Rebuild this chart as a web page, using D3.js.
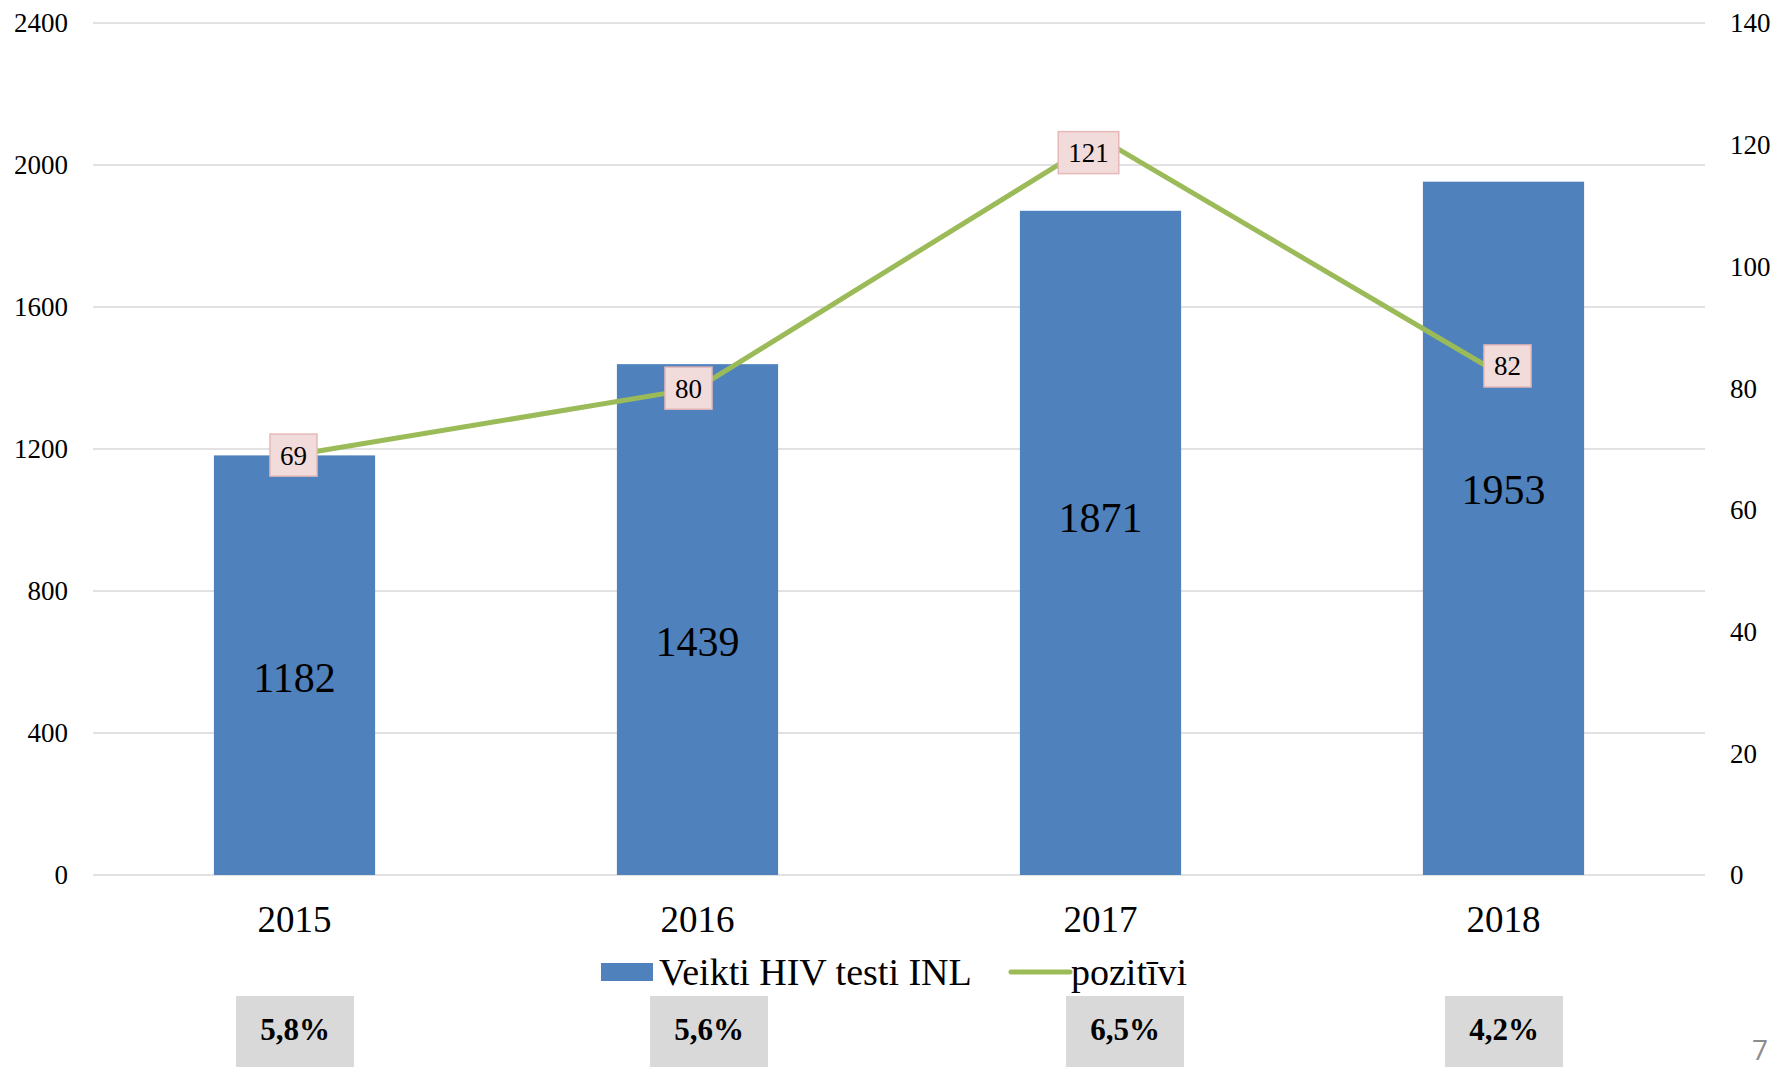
<!DOCTYPE html>
<html>
<head>
<meta charset="utf-8">
<script src="https://cdn.jsdelivr.net/npm/d3@7"></script>
<style>
  body { margin: 0; background: #fff; }
  svg text { font-family: "Liberation Serif", "Times New Roman", serif; }
</style>
</head>
<body>
<div id="chart"></div>
<script>
// Chart values
const years = ["2015", "2016", "2017", "2018"];
const tests = [1182, 1439, 1871, 1953];
const positives = [69, 80, 121, 82];
const shares = ["5,8%", "5,6%", "6,5%", "4,2%"];
const leftTicks = [0, 400, 800, 1200, 1600, 2000, 2400];
const rightTicks = [0, 20, 40, 60, 80, 100, 120, 140];

// Small hand nudges for the data labels (px), as placed in the original slide
const barLabelNudge = [12, 22, -26, -39];
const pointLabelNudge = [[-1, 0], [-9, 0], [-12, 14], [4, -10]];

const W = 1775, H = 1067;
const plotLeft = 93, plotRight = 1705, plotTop = 23, plotBottom = 875;

const svg = d3.select("#chart").append("svg")
    .attr("width", W)
    .attr("height", H);

const x = d3.scaleBand().domain(years).range([plotLeft, plotRight]).padding(0);
const yL = d3.scaleLinear().domain([0, 2400]).range([plotBottom, plotTop]);
const yR = d3.scaleLinear().domain([0, 140]).range([plotBottom, plotTop]);
const barW = x.bandwidth() * 0.4;
const cx = d => x(d) + x.bandwidth() / 2;

// Gridlines
svg.append("g")
    .selectAll("line")
    .data(leftTicks)
    .join("line")
    .attr("x1", plotLeft).attr("x2", plotRight)
    .attr("y1", d => yL(d)).attr("y2", d => yL(d))
    .attr("stroke", "#d9d9d9")
    .attr("stroke-width", 1.5);

// Left axis labels
svg.append("g")
    .selectAll("text")
    .data(leftTicks)
    .join("text")
    .attr("x", 68)
    .attr("y", d => yL(d))
    .attr("dy", "0.35em")
    .attr("text-anchor", "end")
    .attr("font-size", 27)
    .text(d => d);

// Right axis labels
svg.append("g")
    .selectAll("text")
    .data(rightTicks)
    .join("text")
    .attr("x", 1730)
    .attr("y", d => yR(d))
    .attr("dy", "0.35em")
    .attr("text-anchor", "start")
    .attr("font-size", 27)
    .text(d => d);

// Bars
svg.append("g")
    .selectAll("rect")
    .data(years)
    .join("rect")
    .attr("x", d => cx(d) - barW / 2)
    .attr("width", barW)
    .attr("y", (d, i) => yL(tests[i]))
    .attr("height", (d, i) => yL(0) - yL(tests[i]))
    .attr("fill", "#4f81bd");

// Bar value labels
svg.append("g")
    .selectAll("text")
    .data(years)
    .join("text")
    .attr("x", d => cx(d))
    .attr("y", (d, i) => (yL(tests[i]) + yL(0)) / 2 + barLabelNudge[i])
    .attr("dy", "0.35em")
    .attr("text-anchor", "middle")
    .attr("font-size", 42)
    .text((d, i) => tests[i]);

// Line of positive results
const line = d3.line()
    .x(d => cx(d))
    .y((d, i) => yR(positives[i]));
svg.append("path")
    .attr("d", line(years))
    .attr("fill", "none")
    .attr("stroke", "#9bbb59")
    .attr("stroke-width", 5)
    .attr("stroke-linejoin", "round");

// Point labels in pink boxes
const pl = svg.append("g")
    .selectAll("g")
    .data(years)
    .join("g")
    .attr("transform", (d, i) => `translate(${cx(d) + pointLabelNudge[i][0]},${yR(positives[i]) + pointLabelNudge[i][1]})`);
pl.each(function(d, i) {
    const g = d3.select(this);
    const r = g.append("rect");
    const t = g.append("text")
        .attr("text-anchor", "middle")
        .attr("dy", "0.35em")
        .attr("font-size", 27)
        .text(positives[i]);
    const tw = t.node().getComputedTextLength();
    const bw = tw + 20, bh = 42;
    r.attr("x", -bw / 2).attr("y", -bh / 2)
        .attr("width", bw).attr("height", bh)
        .attr("fill", "#f2dcdb")
        .attr("stroke", "#e6b9b8")
        .attr("stroke-width", 1.5);
});

// Category labels
svg.append("g")
    .selectAll("text")
    .data(years)
    .join("text")
    .attr("x", d => cx(d))
    .attr("y", 919)
    .attr("dy", "0.35em")
    .attr("text-anchor", "middle")
    .attr("font-size", 37)
    .text(d => d);

// Legend
const lg = svg.append("g").attr("transform", "translate(0,972)");
lg.append("rect")
    .attr("x", 601).attr("y", -9)
    .attr("width", 52).attr("height", 18)
    .attr("fill", "#4f81bd");
lg.append("text")
    .attr("x", 659).attr("dy", "0.35em")
    .attr("font-size", 38)
    .text("Veikti HIV testi INL");
lg.append("line")
    .attr("x1", 1011).attr("x2", 1070)
    .attr("stroke", "#9bbb59")
    .attr("stroke-width", 5)
    .attr("stroke-linecap", "round");
lg.append("text")
    .attr("x", 1071).attr("dy", "0.35em")
    .attr("font-size", 38)
    .text("pozitīvi");

// Share boxes under the chart
const shareX = [295, 709, 1125, 1504];
const sb = svg.append("g")
    .selectAll("g")
    .data(shares)
    .join("g")
    .attr("transform", (d, i) => `translate(${shareX[i]},0)`);
sb.append("rect")
    .attr("x", -59).attr("y", 996)
    .attr("width", 118).attr("height", 75)
    .attr("fill", "#d9d9d9");
sb.append("text")
    .attr("y", 1029)
    .attr("dy", "0.35em")
    .attr("text-anchor", "middle")
    .attr("font-size", 31)
    .attr("font-weight", "bold")
    .text(d => d);

// Slide number
svg.append("text")
    .attr("x", 1768).attr("y", 1050)
    .attr("dy", "0.35em")
    .attr("text-anchor", "end")
    .attr("font-size", 28)
    .attr("fill", "#8c8c8c")
    .style("font-family", "'Open Sans', 'DejaVu Sans', sans-serif")
    .text("7");
</script>
</body>
</html>
